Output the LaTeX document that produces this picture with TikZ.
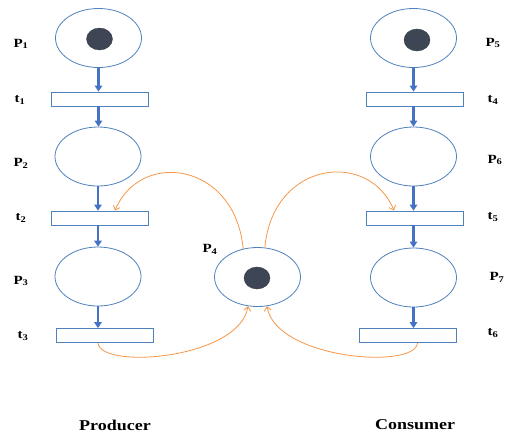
\documentclass[tikz,border=0pt]{standalone}
\usepackage{fontspec}
\setmainfont{Liberation Serif}[FakeStretch=1.2]
\usetikzlibrary{shapes.geometric,arrows.meta}
\definecolor{pblue}{RGB}{79,129,189}
\definecolor{ablue}{RGB}{68,114,196}
\definecolor{porange}{RGB}{247,150,70}
\definecolor{tok}{RGB}{62,70,86}
\tikzset{
  place/.style={ellipse,draw=pblue,line width=0.8pt,fill=white,minimum width=86pt,minimum height=59pt,inner sep=0pt},
  trans/.style={rectangle,draw=pblue,line width=0.8pt,fill=white,minimum width=97pt,minimum height=14pt,inner sep=0pt},
  token/.style={ellipse,fill=tok,draw=tok!70!black,line width=0.3pt,minimum width=26pt,minimum height=22pt,inner sep=0pt},
  lbl/.style={font=\fontsize{12.5}{14}\selectfont\bfseries,inner sep=0pt},
  flow/.style={draw=ablue,line width=2.3pt,-{Triangle[length=6pt,width=7.5pt]}},
  sharedarc/.style={draw=porange,line width=0.8pt,-{Straight Barb[length=4pt,width=7pt]}},
  bottomlabel/.style={font=\fontsize{15}{17}\selectfont\bfseries,inner sep=0pt}
}
\begin{document}
\begin{tikzpicture}[x=1pt,y=-1pt]
\useasboundingbox (0,0) rectangle (510,432);
% producer
\node[place] (p1) at (98.5,38) {};
\node[token] (k1) at (99.5,39) {};
\node[trans] (t1) at (99.5,99) {};
\node[place] (p2) at (98,156.5) {};
\node[trans] (t2) at (100,218) {};
\node[place] (p3) at (98,276.5) {};
\node[trans] (t3) at (105,335.5) {};
% consumer
\node[place] (p5) at (413.5,38) {};
\node[token] (k5) at (417,40) {};
\node[trans] (t4) at (414.5,99) {};
\node[place] (p6) at (413.5,156.5) {};
\node[trans] (t5) at (415,218) {};
\node[place] (p7) at (413.5,277.5) {};
\node[trans] (t6) at (407.5,335.5) {};
% shared
\node[place] (p4) at (257.5,277) {};
\node[token] (k4) at (257,278) {};
% labels
\node[lbl] (l1) at (21,44) {P\textsubscript{1}};
\node[lbl] (l2) at (20,100) {t\textsubscript{1}};
\node[lbl] (l3) at (21,163) {P\textsubscript{2}};
\node[lbl] (l4) at (21,218) {t\textsubscript{2}};
\node[lbl] (l5) at (21,281) {P\textsubscript{3}};
\node[lbl] (l6) at (23,336) {t\textsubscript{3}};
\node[lbl] (l7) at (210,249) {P\textsubscript{4}};
\node[lbl] (l8) at (493,43) {P\textsubscript{5}};
\node[lbl] (l9) at (493,100) {t\textsubscript{4}};
\node[lbl] (l10) at (495,160) {P\textsubscript{6}};
\node[lbl] (l11) at (493,217) {t\textsubscript{5}};
\node[lbl] (l12) at (497,277) {P\textsubscript{7}};
\node[lbl] (l13) at (493,333) {t\textsubscript{6}};
\node[bottomlabel] (prod) at (115,425) {Producer};
\node[bottomlabel] (cons) at (415,425) {Consumer};
% blue flows
\draw[flow] (p1.south) -- (p1.south |- t1.north);
\draw[flow] (p1.south |- t1.south) -- (p1.south |- p2.north);
\draw[flow] (p2.south) -- (p2.south |- t2.north);
\draw[flow] (p2.south |- t2.south) -- (p2.south |- p3.north);
\draw[flow] (p3.south) -- (p3.south |- t3.north);
\draw[flow] (p5.south) -- (p5.south |- t4.north);
\draw[flow] (p5.south |- t4.south) -- (p5.south |- p6.north);
\draw[flow] (p6.south) -- (p6.south |- t5.north);
\draw[flow] (p6.south |- t5.south) -- (p6.south |- p7.north);
\draw[flow] (p7.south) -- (p7.south |- t6.north);
% orange arcs
\draw[sharedarc] (p4.117) .. controls +(-8,-87) and +(25,-61) .. ([xshift=15pt]t2.north);
\draw[sharedarc] (p4.76) .. controls +(8,-87) and +(-25,-61) .. ([xshift=-21pt]t5.north);
\draw[sharedarc] ([xshift=-7pt]t3.south) .. controls +(2,27) and +(-9,53) .. (p4.252);
\draw[sharedarc] ([xshift=10pt]t6.south) .. controls +(-2,27) and +(9,53) .. (p4.288);
\end{tikzpicture}
\end{document}
